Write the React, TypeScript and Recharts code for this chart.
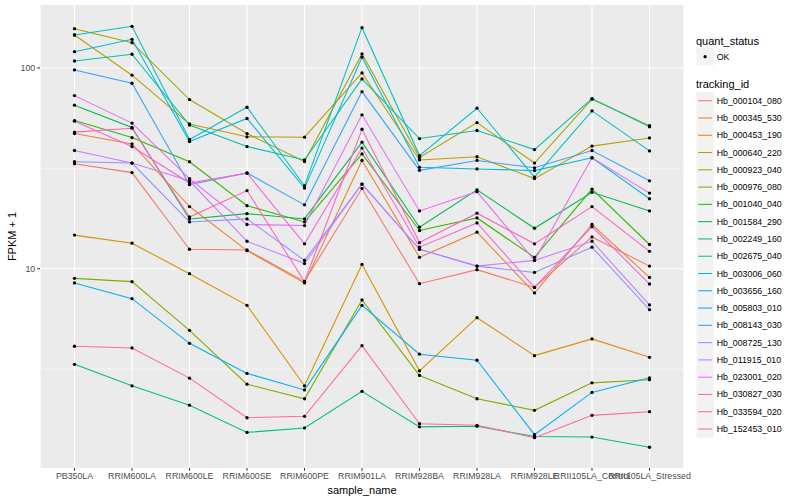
import { LineChart, Line, XAxis, YAxis, CartesianGrid } from "recharts";

const samples = [
  "PB350LA",
  "RRIM600LA",
  "RRIM600LE",
  "RRIM600SE",
  "RRIM600PE",
  "RRIM901LA",
  "RRIM928BA",
  "RRIM928LA",
  "RRIM928LE",
  "RRII105LA_Control",
  "RRII105LA_Stressed",
];

// FPKM + 1, one value per sample
const hb_000104_080 = [33.3, 30.1, 12.5, 12.4, 8.65, 25.1, 8.42, 9.89, 8.07, 14.4, 10.3];
const hb_000345_530 = [47.1, 41.8, 20.4, 12.3, 8.49, 34.6, 11.4, 15.2, 7.57, 16.6, 9.05];
const hb_000453_190 = [14.7, 13.4, 9.44, 6.57, 2.61, 10.5, 3.1, 5.7, 3.69, 4.47, 3.62];
const hb_000640_220 = [145.9, 92.0, 52.6, 45.4, 45.2, 94.4, 34.8, 36.1, 28.1, 40.8, 44.8];
const hb_000923_040 = [156.9, 133.6, 69.6, 47.1, 34.2, 117.4, 35.8, 53.4, 33.6, 69.9, 51.6];
const hb_000976_080 = [8.95, 8.62, 4.93, 2.66, 2.25, 6.99, 2.94, 2.25, 1.97, 2.7, 2.8];
const hb_001040_040 = [54.7, 45.0, 34.1, 20.6, 17.1, 37.3, 15.5, 17.9, 11.4, 24.9, 13.2];
const hb_001584_290 = [65.2, 50.5, 17.7, 18.8, 17.7, 42.7, 16.1, 24.7, 15.9, 24.0, 19.4];
const hb_002249_160 = [3.34, 2.61, 2.09, 1.53, 1.61, 2.45, 1.63, 1.64, 1.46, 1.45, 1.29];
const hb_002675_040 = [108.3, 117.0, 51.9, 40.6, 34.8, 88.2, 44.5, 48.8, 39.2, 70.4, 50.9];
const hb_003006_060 = [145.9, 161.2, 44.0, 63.7, 25.9, 158.7, 36.6, 63.0, 28.6, 61.1, 38.6];
const hb_003656_160 = [120.5, 138.9, 43.0, 56.0, 25.2, 113.1, 32.0, 31.4, 30.8, 35.7, 22.3];
const hb_005803_010 = [8.49, 7.09, 4.25, 3.01, 2.49, 6.57, 3.75, 3.5, 1.49, 2.42, 2.86];
const hb_008143_030 = [97.7, 83.9, 26.2, 30.0, 20.8, 76.2, 30.9, 34.6, 31.8, 38.8, 27.4];
const hb_008725_130 = [34.1, 33.6, 17.1, 17.7, 11.0, 26.4, 12.5, 10.3, 9.58, 12.8, 6.25];
const hb_011915_010 = [38.8, 33.6, 27.4, 13.7, 10.6, 26.4, 12.5, 10.3, 11.0, 13.7, 6.6];
const hb_023001_020 = [72.8, 53.1, 28.1, 16.6, 16.4, 58.4, 19.4, 24.2, 11.0, 35.7, 23.8];
const hb_030827_030 = [54.3, 40.6, 26.7, 29.9, 13.3, 39.9, 12.8, 16.9, 8.07, 16.2, 8.39];
const hb_033594_020 = [47.9, 50.1, 18.1, 24.5, 8.62, 49.5, 13.5, 18.9, 13.3, 20.4, 12.2];
const hb_152453_010 = [4.11, 4.03, 2.85, 1.81, 1.84, 4.14, 1.69, 1.66, 1.44, 1.86, 1.94];

const trackingIds = [
  "Hb_000104_080",
  "Hb_000345_530",
  "Hb_000453_190",
  "Hb_000640_220",
  "Hb_000923_040",
  "Hb_000976_080",
  "Hb_001040_040",
  "Hb_001584_290",
  "Hb_002249_160",
  "Hb_002675_040",
  "Hb_003006_060",
  "Hb_003656_160",
  "Hb_005803_010",
  "Hb_008143_030",
  "Hb_008725_130",
  "Hb_011915_010",
  "Hb_023001_020",
  "Hb_030827_030",
  "Hb_033594_020",
  "Hb_152453_010",
];

const seriesValues = [
  hb_000104_080, hb_000345_530, hb_000453_190, hb_000640_220, hb_000923_040,
  hb_000976_080, hb_001040_040, hb_001584_290, hb_002249_160, hb_002675_040,
  hb_003006_060, hb_003656_160, hb_005803_010, hb_008143_030, hb_008725_130,
  hb_011915_010, hb_023001_020, hb_030827_030, hb_033594_020, hb_152453_010,
];

// ggplot hue palette, 20 levels
const colors = [
  "#F8766D", "#EA8331", "#D89000", "#C09B00", "#A3A500",
  "#7CAE00", "#39B600", "#00BB4E", "#00BF7D", "#00C1A3",
  "#00BFC4", "#00BAE0", "#00B0F6", "#35A2FF", "#9590FF",
  "#C77CFF", "#E76BF3", "#FA62DB", "#FF62BC", "#FF6C91",
];

const yTicks = [10, 100];
const yMinor = [3.162, 31.62];

const chartData = samples.map((name, i) => {
  const row: Record<string, number | string> = { x: i, name };
  trackingIds.forEach((id, k) => {
    row[id] = seriesValues[k][i];
  });
  return row;
});

const FONT = "'Liberation Sans', Arial, Helvetica, sans-serif";

export default function App() {
  return (
    <div
      style={{
        position: "absolute",
        left: 0,
        top: 0,
        width: 800,
        height: 500,
        background: "#fff",
        fontFamily: FONT,
      }}
    >
      <LineChart
        width={800}
        height={500}
        data={chartData}
        margin={{ top: 5, right: 116, bottom: 0, left: 0 }}
      >
        <CartesianGrid
          fill="#EBEBEB"
          fillOpacity={1}
          stroke="#FFFFFF"
          strokeWidth={1.07}
          horizontalValues={yTicks}
        />
        <CartesianGrid
          vertical={false}
          stroke="#FFFFFF"
          strokeWidth={0.53}
          horizontalValues={yMinor}
        />
        <XAxis
          type="number"
          dataKey="x"
          domain={[-0.6, 10.6]}
          ticks={samples.map((_, i) => i)}
          interval={0}
          tickFormatter={(i: number) => samples[i]}
          height={32}
          axisLine={false}
          tickSize={2.75}
          tickMargin={2}
          tickLine={{ stroke: "#333333", strokeWidth: 1.07 }}
          tick={{ fontSize: 8.8, fill: "#4D4D4D", fontFamily: FONT }}
        />
        <YAxis
          type="number"
          scale="log"
          domain={[1.017, 205.8]}
          allowDataOverflow
          ticks={yTicks}
          width={40}
          axisLine={false}
          tickSize={2.75}
          tickMargin={2}
          tickLine={{ stroke: "#333333", strokeWidth: 1.07 }}
          tick={{ fontSize: 8.8, fill: "#4D4D4D", fontFamily: FONT }}
        />
        {trackingIds.map((id, k) => (
          <Line
            key={id}
            dataKey={id}
            stroke={colors[k]}
            strokeWidth={1.07}
            dot={false}
            activeDot={false}
            type="linear"
            isAnimationActive={false}
          />
        ))}
        {trackingIds.map((id) => (
          <Line
            key={id + "-pt"}
            dataKey={id}
            stroke="none"
            dot={{ r: 1.65, fill: "#000000", stroke: "none" }}
            activeDot={false}
            type="linear"
            isAnimationActive={false}
          />
        ))}
      </LineChart>

      <svg
        width={800}
        height={500}
        style={{ position: "absolute", left: 0, top: 0, pointerEvents: "none" }}
        fontFamily={FONT}
      >
        <text
          x={362}
          y={490}
          fontSize={11}
          textAnchor="middle"
          dominantBaseline="central"
          fill="#000"
        >
          sample_name
        </text>
        <text
          x={12}
          y={236.5}
          fontSize={11}
          textAnchor="middle"
          dominantBaseline="central"
          transform="rotate(-90 12 236.5)"
          fill="#000"
        >
          FPKM + 1
        </text>

        <text x={696} y={40.7} fontSize={11} dominantBaseline="central" fill="#000">
          quant_status
        </text>
        <rect x={696.5} y={48} width={17.3} height={17.3} fill="#F2F2F2" />
        <circle cx={705.1} cy={56.7} r={1.65} fill="#000" />
        <text x={716.7} y={56.7} fontSize={8.8} dominantBaseline="central" fill="#000">
          OK
        </text>

        <text x={696} y={84.3} fontSize={11} dominantBaseline="central" fill="#000">
          tracking_id
        </text>
        {trackingIds.map((id, k) => {
          const cy = 100.7 + k * 17.28;
          return (
            <g key={id}>
              <rect x={696.5} y={cy - 8.64} width={17.3} height={17.28} fill="#F2F2F2" />
              <line
                x1={698.2}
                x2={712.1}
                y1={cy}
                y2={cy}
                stroke={colors[k]}
                strokeWidth={1.07}
              />
              <text x={716.7} y={cy} fontSize={8.8} dominantBaseline="central" fill="#000">
                {id}
              </text>
            </g>
          );
        })}
      </svg>
    </div>
  );
}
